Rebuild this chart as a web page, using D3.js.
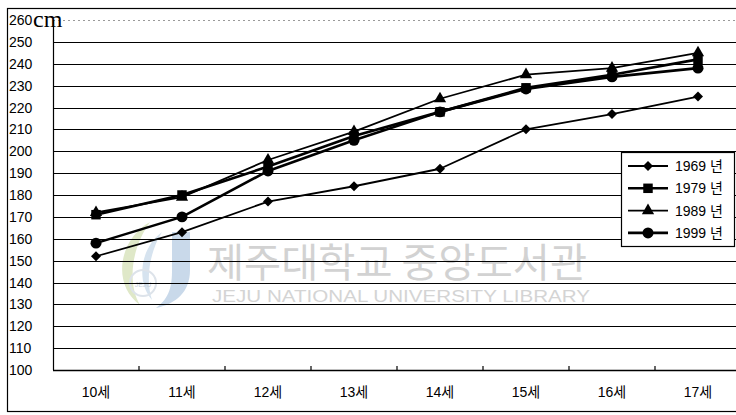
<!DOCTYPE html>
<html>
<head>
<meta charset="utf-8">
<script src="https://cdn.jsdelivr.net/npm/d3@7"></script>
<style>
  html, body { margin: 0; padding: 0; background: #fff; }
  svg { display: block; font-family: "Liberation Sans", Arial, "Noto Sans CJK KR", sans-serif; }
</style>
</head>
<body>
<svg id="chart" width="736" height="415"></svg>
<script>
// Height by age (cm), per survey year
const ages = ["10세", "11세", "12세", "13세", "14세", "15세", "16세", "17세"];
const years = ["1969 년", "1979 년", "1989 년", "1999 년"];
const h1969 = [152, 163, 177, 184, 192, 210, 217, 225];
const h1979 = [171, 180, 193, 207, 218, 229, 235, 242];
const h1989 = [172, 179, 196, 209, 224, 235, 238, 245];
const h1999 = [158, 170, 191, 205, 218, 228.5, 234, 238];
const yTicks = d3.range(100, 261, 10);

const seriesValues = [h1969, h1979, h1989, h1999];
// marker: [symbol type, area, rotation]
const markers = [
  [d3.symbolSquare, 50, 45],
  [d3.symbolSquare, 90, 0],
  [d3.symbolTriangle, 65, 0],
  [d3.symbolCircle, 95, 0]
];
const lineW = [1.8, 2.6, 1.8, 2.6];

const svg = d3.select("#chart");
const plotL = 53, plotT = 20, plotB = 370, plotR = 741;

const x = d3.scaleBand().domain(ages).range([plotL, plotR]);
const y = d3.scaleLinear().domain([100, 260]).range([plotB, plotT]);

// outer frame
svg.append("rect")
  .attr("x", 7.5).attr("y", 8.5).attr("width", 760).attr("height", 403)
  .attr("fill", "none").attr("stroke", "#000").attr("stroke-width", 1.2);

// library watermark
const wm = svg.append("g");
wm.append("path")
  .attr("d", "M150,222 C118,240 112,285 140,305 C128,285 130,250 150,222 Z")
  .attr("fill", "#dfe8c8");
wm.append("path")
  .attr("d", "M162,232 C140,248 136,282 152,300 C146,282 148,255 162,232 Z")
  .attr("fill", "#d6e3ef");
wm.append("circle").attr("cx", 143).attr("cy", 283).attr("r", 13)
  .attr("fill", "none").attr("stroke", "#dde3ea").attr("stroke-width", 2);
wm.append("text").attr("x", 143).attr("y", 287).attr("text-anchor", "middle")
  .attr("font-size", 7).attr("fill", "#c8d2dc").text("JEJU");
wm.append("path")
  .attr("d", "M172,232 L190,232 L190,270 C190,292 176,304 156,308 C170,298 172,285 172,270 Z")
  .attr("fill", "#c9d9ea");
wm.append("text").attr("x", 207).attr("y", 277)
  .attr("font-size", 40).attr("fill", "#d2d2d2")
  .style("font-family", "'Noto Sans CJK KR', sans-serif")
  .attr("textLength", 380).attr("lengthAdjust", "spacingAndGlyphs")
  .text("제주대학교 중앙도서관");
wm.append("text").attr("x", 212).attr("y", 302)
  .attr("font-size", 16).attr("fill", "#d4d4d4")
  .attr("textLength", 378).attr("lengthAdjust", "spacingAndGlyphs")
  .text("JEJU NATIONAL UNIVERSITY  LIBRARY");

// gridlines
svg.append("g").selectAll("line")
  .data(yTicks.filter(v => v > 100))
  .join("line")
  .attr("x1", plotL).attr("x2", plotR)
  .attr("y1", d => Math.round(y(d)) + 0.5).attr("y2", d => Math.round(y(d)) + 0.5)
  .attr("stroke", d => d === 260 ? "#9a9a9a" : "#000")
  .attr("stroke-width", d => d === 260 ? 1 : 1.1)
  .attr("stroke-dasharray", d => d === 260 ? "2,3" : null);

// y axis line
svg.append("line")
  .attr("x1", plotL + 0.5).attr("x2", plotL + 0.5)
  .attr("y1", plotT).attr("y2", plotB)
  .attr("stroke", "#000").attr("stroke-width", 1.2);

// x axis with band-boundary ticks
svg.append("line")
  .attr("x1", plotL).attr("x2", plotR)
  .attr("y1", plotB + 0.5).attr("y2", plotB + 0.5)
  .attr("stroke", "#000").attr("stroke-width", 1.5);
svg.append("g").selectAll("line")
  .data(ages.slice(1))
  .join("line")
  .attr("x1", d => x(d)).attr("x2", d => x(d))
  .attr("y1", plotB).attr("y2", plotB - 4)
  .attr("stroke", "#000").attr("stroke-width", 1.2);

// y tick labels
svg.append("g").selectAll("text")
  .data(yTicks)
  .join("text")
  .attr("x", 9).attr("y", d => y(d))
  .attr("dy", "0.36em")
  .attr("font-size", 14).attr("fill", "#000")
  .text(d => d);

// unit
svg.append("text")
  .attr("x", 33).attr("y", 27)
  .style("font-family", "'Liberation Serif', 'Times New Roman', serif")
  .attr("font-size", 24).attr("fill", "#000")
  .text("cm");

// x tick labels
svg.append("g").selectAll("text")
  .data(ages)
  .join("text")
  .attr("x", d => x(d) + x.bandwidth() / 2)
  .attr("y", 397)
  .attr("text-anchor", "middle")
  .attr("font-size", 14).attr("fill", "#000")
  .text(d => d);

// series lines and markers
const line = d3.line()
  .x((d, i) => x(ages[i]) + x.bandwidth() / 2)
  .y(d => y(d));

const markerPath = s => d3.symbol().type(markers[s][0]).size(markers[s][1])();

seriesValues.forEach((vals, s) => {
  svg.append("path")
    .datum(vals)
    .attr("d", line)
    .attr("fill", "none").attr("stroke", "#000")
    .attr("stroke-width", lineW[s]).attr("stroke-linejoin", "round");
  svg.append("g").selectAll("path")
    .data(vals)
    .join("path")
    .attr("transform", (d, i) =>
      `translate(${x(ages[i]) + x.bandwidth() / 2},${y(d)}) rotate(${markers[s][2]})`)
    .attr("d", markerPath(s))
    .attr("fill", "#000");
});

// legend
const lg = svg.append("g");
lg.append("rect")
  .attr("x", 621.5).attr("y", 152.5).attr("width", 113).attr("height", 94)
  .attr("fill", "#fff").attr("stroke", "#000").attr("stroke-width", 1.2);
years.forEach((yr, s) => {
  const cy = 166 + s * 22.3;
  lg.append("line")
    .attr("x1", 628).attr("x2", 668).attr("y1", cy).attr("y2", cy)
    .attr("stroke", "#000").attr("stroke-width", lineW[s]);
  lg.append("path")
    .attr("transform", `translate(648,${cy}) rotate(${markers[s][2]})`)
    .attr("d", markerPath(s))
    .attr("fill", "#000");
  lg.append("text")
    .attr("x", 675).attr("y", cy).attr("dy", "0.36em")
    .attr("font-size", 14).attr("fill", "#000")
    .text(yr);
});
</script>
</body>
</html>
